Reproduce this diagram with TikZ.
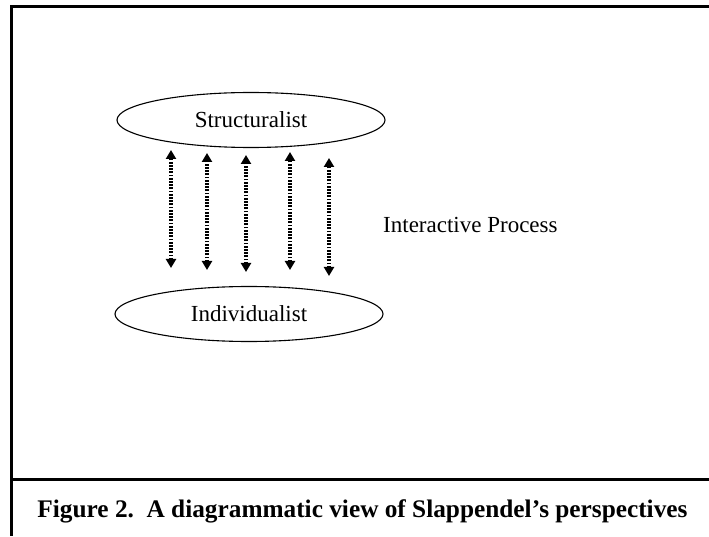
\documentclass[tikz,border=0pt]{standalone}
\usepackage{fontspec}
\setmainfont{Liberation Serif}
\usetikzlibrary{arrows.meta,shapes.geometric}
\begin{document}
\begin{tikzpicture}[x=1pt,y=1pt,
  frameline/.style={line width=3pt},
  oval/.style={draw,ellipse,line width=1.1pt,minimum width=268pt,minimum height=55pt,inner sep=0pt,font=\fontsize{23}{26}\selectfont},
  lbl/.style={font=\fontsize{23}{26}\selectfont,inner sep=0pt},
  dotarrow/.style={line width=3.2pt,dash pattern=on 1.8pt off 1.4pt,{Triangle[width=10pt,length=9pt]}-{Triangle[width=10pt,length=9pt]}}]
\useasboundingbox (0,0) rectangle (709,536);
\fill[white] (0,0) rectangle (709,536);
% frame
\coordinate (tl) at (11,529);
\coordinate (tr) at (709,529);
\coordinate (bl) at (11,0);
\coordinate (sl) at (11,57);
\coordinate (sr) at (709,57);
\draw[frameline] (tr) -- (tl) -- (bl);
\draw[frameline] (sl) -- (sr);
% ellipses
\node[oval] (S) at (251,416) {Structuralist};
\node[oval] (I) at (249,222) {Individualist};
% arrows
\foreach \n/\x/\t/\b in {a/171/386/268, b/207/383/266, c/246/381/264, d/290/384/266, e/329/378/260}{
  \coordinate (\n t) at (\x,\t);
  \coordinate (\n b) at (\x,\b);
  \draw[dotarrow] (\n b) -- (\n t);
}
\node[lbl,anchor=west] (P) at (383,311) {Interactive Process};
\node[lbl,font=\fontsize{25.3}{28}\selectfont\bfseries] (C) at (362.5,25) {Figure 2.\ \ A diagrammatic view of Slappendel’s perspectives};
\end{tikzpicture}
\end{document}
